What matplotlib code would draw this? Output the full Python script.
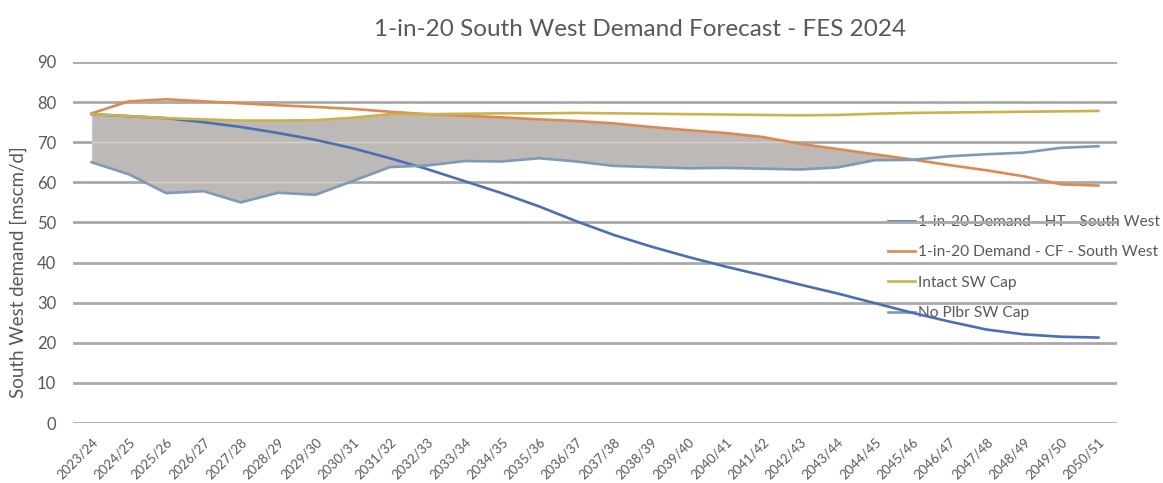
import matplotlib
matplotlib.use("Agg")
import matplotlib.pyplot as plt
import numpy as np
from matplotlib.path import Path

# Gas years
years = [
    "2023/24", "2024/25", "2025/26", "2026/27", "2027/28", "2028/29", "2029/30",
    "2030/31", "2031/32", "2032/33", "2033/34", "2034/35", "2035/36", "2036/37",
    "2037/38", "2038/39", "2039/40", "2040/41", "2041/42", "2042/43", "2043/44",
    "2044/45", "2045/46", "2046/47", "2047/48", "2048/49", "2049/50", "2050/51",
]

# 1-in-20 peak demand, mscm/d
demand_ht = [77.0, 76.5, 76.0, 75.0, 73.8, 72.3, 70.6, 68.5, 66.0, 63.3, 60.3, 57.3,
             54.0, 50.3, 46.9, 44.0, 41.4, 39.0, 36.8, 34.5, 32.3, 29.9, 27.5, 25.3,
             23.3, 22.1, 21.5, 21.3]
demand_cf = [77.2, 80.2, 80.7, 80.2, 79.7, 79.2, 78.8, 78.3, 77.6, 77.0, 76.6, 76.2,
             75.7, 75.3, 74.7, 73.8, 73.0, 72.3, 71.3, 69.6, 68.3, 67.0, 65.7, 64.3,
             63.0, 61.5, 59.5, 59.2]

# Network capability, mscm/d
intact_cap = [77.0, 76.5, 76.0, 75.7, 75.4, 75.4, 75.5, 76.1, 77.0, 77.0, 77.1, 77.2,
              77.2, 77.3, 77.2, 77.1, 77.0, 76.9, 76.8, 76.7, 76.8, 77.1, 77.3, 77.4,
              77.5, 77.6, 77.7, 77.8]
no_plbr_cap = [65.0, 62.0, 57.3, 57.8, 55.0, 57.4, 56.9, 60.3, 63.8, 64.2, 65.3, 65.2,
               66.0, 65.2, 64.1, 63.8, 63.5, 63.6, 63.4, 63.2, 63.7, 65.5, 65.6, 66.5,
               67.0, 67.4, 68.6, 69.0]

labels = [
    "1-in-20 Demand - HT - South West",
    "1-in-20 Demand - CF - South West",
    "Intact SW Cap",
    "No Plbr SW Cap",
]

TEXT = "#595959"
GRID = "#a9a9a9"
FILL = "#bdb9b6"
FONT = ["Lato", "DejaVu Sans"]

plt.rcParams["font.family"] = FONT

W, H = 1163, 483
fig = plt.figure(figsize=(W / 100, H / 100), dpi=100)
ax = fig.add_axes([73 / W, (H - 423) / H, (1117 - 73) / W, (423 - 62) / H])
ax.set_facecolor("none")

x = np.arange(len(years))
ht = np.array(demand_ht)
cf = np.array(demand_cf)
cap = np.array(intact_cap)
low = np.array(no_plbr_cap)

# Shaded band: capability shortfall region between the reduced cap and
# whichever is lower of the intact cap and the CF demand
top = np.minimum(cap, cf)
band = ax.fill_between(x, low, top, where=top >= low, interpolate=True,
                       color=FILL, lw=0, zorder=1)
clip = Path.make_compound_path(*band.get_paths())
for yv in (60, 70):
    gl = ax.axhline(yv, color="#ddd4c9", lw=1.0, zorder=1.2)
    gl.set_clip_path(clip, ax.transData)

l_ht, = ax.plot(x, ht, color="#4a6fb5", lw=1.9, zorder=3)
l_cf, = ax.plot(x, cf, color="#dd8a52", lw=1.9, zorder=3)
l_cap, = ax.plot(x, cap, color="#cdb24c", lw=1.9, zorder=3)
l_low, = ax.plot(x, low, color="#7f99b8", lw=1.9, zorder=3)

ax.set_xlim(-0.5, len(years) - 0.5)
ax.set_ylim(0, 90)
ax.set_yticks(np.arange(0, 91, 10))
ax.yaxis.grid(True, color=GRID, lw=2.0)
ax.set_axisbelow(True)
for s in ax.spines.values():
    s.set_visible(False)

ax.set_xticks(x)
ax.set_xticklabels(years, rotation=45, ha="right", rotation_mode="anchor",
                   fontsize=9.5, color=TEXT)
ax.tick_params(axis="x", length=0, pad=9)
ax.tick_params(axis="y", length=0, pad=12, labelsize=12, labelcolor=TEXT)

fig.text(640 / W, 1 - 30 / H, "1-in-20 South West Demand Forecast - FES 2024",
         ha="center", va="center", fontsize=17.5, color=TEXT)
fig.text(18 / W, 1 - 272 / H, "South West demand [mscm/d]", rotation=90,
         ha="center", va="center", fontsize=13.5, color=TEXT)

leg = fig.legend([l_ht, l_cf, l_cap, l_low], labels, loc="upper left",
                 bbox_to_anchor=(888 / W, 1 - 215 / H), frameon=False,
                 fontsize=11.2, labelcolor=TEXT, handlelength=1.75,
                 handletextpad=0.2, borderpad=0, borderaxespad=0,
                 labelspacing=1.05)
leg.set_zorder(-1)

fig.savefig("out.png", dpi=100, facecolor="white")
